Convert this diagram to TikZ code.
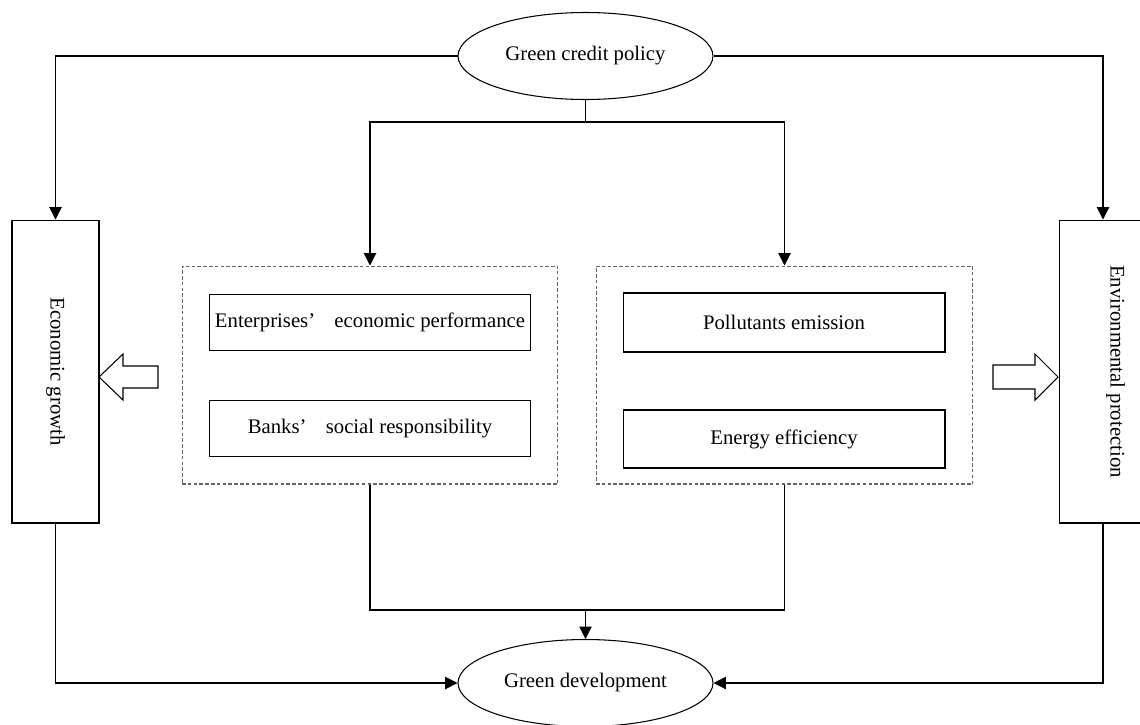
\documentclass[tikz,border=0pt]{standalone}
\usepackage{fontspec}
\setmainfont{Liberation Serif}
\usetikzlibrary{arrows.meta}
\usetikzlibrary{shapes.geometric}

\begin{document}
\begin{tikzpicture}[x=0.02cm,y=-0.02cm,line width=0.6pt,
        font=\fontsize{11.8}{14}\selectfont,
        arr/.style={-{Triangle[length=7pt,width=7pt]}},
        oval/.style={ellipse,draw,minimum width=5.1cm,minimum height=1.74cm,inner sep=0pt},
        side/.style={rectangle,draw,minimum width=1.74cm,minimum height=6.06cm,inner sep=0pt},
        group/.style={rectangle,draw=black!60,dash pattern=on 2pt off 1.3pt,minimum height=4.36cm,inner sep=0pt},
        item/.style={rectangle,draw,minimum width=6.44cm,minimum height=1.12cm,inner sep=0pt}]
        \useasboundingbox (0,0) rectangle (1140,724);
        \node[oval] (gcp) at (585.5,56) {Green credit policy};
        \node[oval] (gd) at (585.5,683) {Green development};
        \node[side] (eg) at (55.5,371.5) {\rotatebox{-90}{Economic growth}};
        \node[side] (ep) at (1103,371.5) {\hspace{0.5cm}\rotatebox{-90}{Environmental protection}};
        \node[group,minimum width=7.52cm] (lgrp) at (370,375) {};
        \node[group,minimum width=7.54cm] (rgrp) at (784.5,375) {};
        \node[item] (perf) at (370,322.5) {Enterprises’\hspace{11pt}economic performance};
        \node[item] (resp) at (370,428.5) {Banks’\hspace{11pt}social responsibility};
        \node[item,minimum height=1.18cm] (poll) at (784,322.5) {Pollutants emission};
        \node[item,minimum height=1.16cm] (ener) at (784,439) {Energy efficiency};
        \coordinate (split) at (585.5,122);
        \coordinate (join) at (585.5,610);
        % policy to both sides and both groups
        \draw[arr] (gcp.west) -| (eg.north);
        \draw[arr] (gcp.east) -| (ep.north);
        \draw (gcp.south) -- (split);
        \draw[arr] (split) -| (lgrp.north);
        \draw[arr] (split) -| (rgrp.north);
        % groups and sides to development
        \draw (lgrp.south) |- (join);
        \draw (rgrp.south) |- (join);
        \draw[arr] (join) -- (gd.north);
        \draw[arr] (eg.south) |- (gd.west);
        \draw[arr] (ep.south) |- (gd.east);
        % hollow arrows
        \draw (99,377) -- (123,354) -- (123,366) -- (158,366) -- (158,388) -- (123,388) -- (123,400) -- cycle;
        \draw (1058,377) -- (1035,354) -- (1035,365) -- (993,365) -- (993,389) -- (1035,389) -- (1035,400) -- cycle;
    \end{tikzpicture}
\end{document}
